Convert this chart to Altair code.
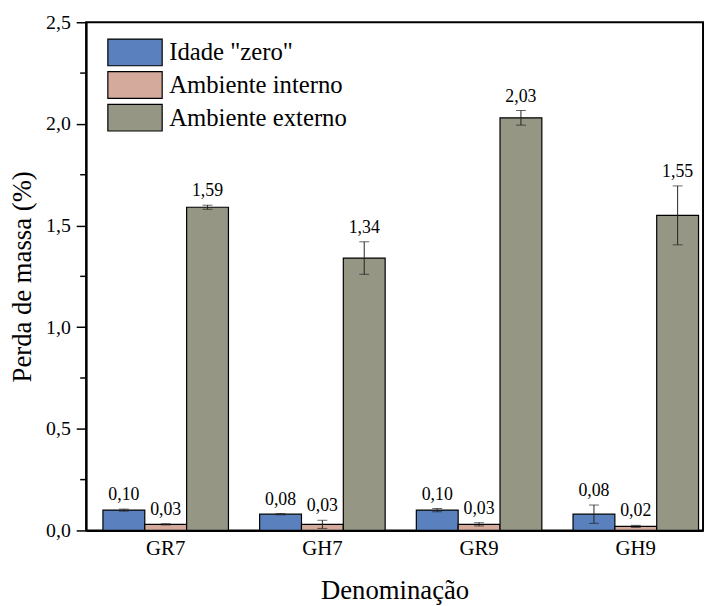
import altair as alt
import pandas as pd

groups = ["GR7", "GH7", "GR9", "GH9"]
series = ['Idade "zero"', "Ambiente interno", "Ambiente externo"]
idade_zero = [0.10, 0.08, 0.10, 0.08]
amb_interno = [0.03, 0.03, 0.03, 0.02]
amb_externo = [1.59, 1.34, 2.03, 1.55]
err_zero = [0.005, 0.003, 0.008, 0.045]
err_interno = [0.003, 0.02, 0.008, 0.005]
err_externo = [0.01, 0.08, 0.036, 0.145]
colors = ["#5A80BE", "#D3AA9C", "#959684"]
major_ticks = [0.0, 0.5, 1.0, 1.5, 2.0, 2.5]
minor_ticks = [0.25, 0.75, 1.25, 1.75, 2.25]

FONT = "Liberation Serif"
Y_TITLE = "Perda de massa (%)"

rows = []
for s, vals, errs in zip(series, [idade_zero, amb_interno, amb_externo],
                         [err_zero, err_interno, err_externo]):
    for g, v, e in zip(groups, vals, errs):
        rows.append(dict(group=g, series=s, value=v, lo=v - e, hi=v + e,
                         label=f"{v:.2f}".replace(".", ",")))
df = pd.DataFrame(rows)
minor_df = pd.DataFrame({"v": minor_ticks})

x_scale = alt.Scale(paddingInner=0.199, paddingOuter=0.068, align=0.79)
x_enc = alt.X("group:N", sort=groups, scale=x_scale,
              axis=alt.Axis(title="Denominação", labelAngle=0, ticks=False,
                            labelPadding=7, labelFontSize=21, titleFontSize=27,
                            titlePadding=20, domainWidth=2))
xo_enc = alt.XOffset("series:N", sort=series,
                     scale=alt.Scale(paddingInner=0, paddingOuter=0))
y_scale = alt.Scale(domain=[0, 2.5], nice=False)
y_axis = alt.Axis(title=Y_TITLE, values=major_ticks,
                  labelExpr="replace(format(datum.value, '.1f'), '.', ',')",
                  tickSize=10, tickWidth=1.5, labelFontSize=20,
                  titleFontSize=27, titlePadding=9, labelPadding=6,
                  domainWidth=2, grid=False)

bars = alt.Chart(df).mark_bar(stroke="black", strokeWidth=1.2).encode(
    x=x_enc,
    xOffset=xo_enc,
    y=alt.Y("value:Q", scale=y_scale, axis=y_axis),
    color=alt.Color("series:N", sort=series,
                    scale=alt.Scale(domain=series, range=colors),
                    legend=alt.Legend(
                        title=None, orient="none", legendX=21, legendY=16,
                        symbolType="M-1,-1 L3.07,-1 L3.07,1 L-1,1 Z",
                        symbolSize=729, symbolStrokeColor="black",
                        symbolStrokeWidth=1.2, symbolOpacity=1,
                        labelFont=FONT, labelFontSize=25, labelColor="black",
                        labelLimit=400, labelOffset=34, rowPadding=0,
                        padding=0)),
)

err_rule = alt.Chart(df).mark_rule(color="#222222", strokeWidth=1).encode(
    x=alt.X("group:N", sort=groups), xOffset=xo_enc,
    y=alt.Y("lo:Q", scale=y_scale, title=Y_TITLE), y2="hi:Q")
cap_hi = alt.Chart(df).mark_tick(size=10, thickness=1, color="#222222").encode(
    x=alt.X("group:N", sort=groups), xOffset=xo_enc,
    y=alt.Y("hi:Q", scale=y_scale, title=Y_TITLE))
cap_lo = alt.Chart(df).mark_tick(size=10, thickness=1, color="#222222").encode(
    x=alt.X("group:N", sort=groups), xOffset=xo_enc,
    y=alt.Y("lo:Q", scale=y_scale, title=Y_TITLE))

labels = alt.Chart(df).mark_text(font=FONT, fontSize=18, color="black",
                                 baseline="alphabetic", dy=-9).encode(
    x=alt.X("group:N", sort=groups), xOffset=xo_enc,
    y=alt.Y("hi:Q", scale=y_scale, title=Y_TITLE), text="label:N")

minor = alt.Chart(minor_df).mark_rule(color="black", strokeWidth=1.5).encode(
    y=alt.Y("v:Q", scale=y_scale, title=Y_TITLE),
    x=alt.value(-6), x2=alt.value(0))

chart = alt.layer(bars, err_rule, cap_hi, cap_lo, labels, minor).properties(
    width=624, height=514,
    autosize=alt.AutoSizeParams(type="none"),
    padding={"left": 79, "top": 11, "right": 2, "bottom": 73},
).configure(font=FONT).configure_axis(
    labelFont=FONT, titleFont=FONT, titleFontWeight="normal",
    labelColor="black", titleColor="black", domainColor="black",
    tickColor="black",
).configure_legend(labelFont=FONT).configure_view(stroke="black", strokeWidth=2)

chart.save("out.html", embed_options={"renderer": "svg", "actions": False})
